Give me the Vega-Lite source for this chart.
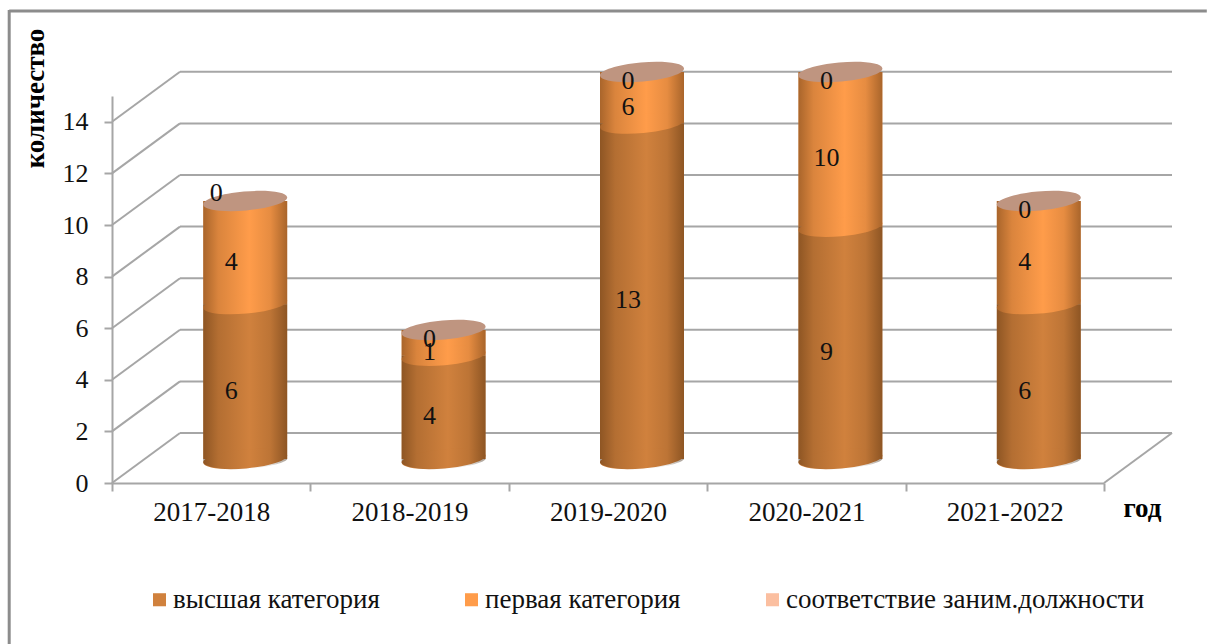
{
"$schema":"https://vega.github.io/schema/vega-lite/v6.json",
"width":992,"height":387,
"autosize":{"type":"none"},
"padding":{"left":112,"top":96,"right":103,"bottom":161},
"background":"#ffffff",
"config":{"view":{"stroke":null},
 "axisX":{"titleFont":"Liberation Serif","titleFontSize":27,"titleFontWeight":"bold","titleColor":"#000000","titleX":1030,"titleY":12,"titleAlign":"center","labelFont":"Liberation Serif","labelFontSize":27,"labelColor":"#111111","labelAngle":0,"labelAlign":"center","labelBaseline":"top","labelPadding":8,"tickBand":"extent","tickSize":8,"tickColor":"#a6a6a6","tickWidth":2,"domainColor":"#a6a6a6","domainWidth":2,"grid":false},
 "axisY":{"titleFont":"Liberation Serif","titleFontSize":27,"titleFontWeight":"bold","titleColor":"#000000","titleX":-63,"titleY":2,"titleAngle":270,"labelFont":"Liberation Serif","labelFontSize":26,"labelColor":"#111111","labelPadding":16,"tickSize":8,"tickColor":"#a6a6a6","tickWidth":2,"domainColor":"#a6a6a6","domainWidth":2,"grid":false}
},
"datasets":{
"segments":[
{"year":"2017-2018","cat":"высшая категория","value":6,"start":0,"end":6,"mid":3},
{"year":"2017-2018","cat":"первая категория","value":4,"start":6,"end":10,"mid":8},
{"year":"2017-2018","cat":"соответствие заним.должности","value":0,"start":10,"end":10,"mid":10},
{"year":"2018-2019","cat":"высшая категория","value":4,"start":0,"end":4,"mid":2},
{"year":"2018-2019","cat":"первая категория","value":1,"start":4,"end":5,"mid":4.5},
{"year":"2018-2019","cat":"соответствие заним.должности","value":0,"start":5,"end":5,"mid":5},
{"year":"2019-2020","cat":"высшая категория","value":13,"start":0,"end":13,"mid":6.5},
{"year":"2019-2020","cat":"первая категория","value":6,"start":13,"end":15,"mid":14},
{"year":"2019-2020","cat":"соответствие заним.должности","value":0,"start":15,"end":15,"mid":15},
{"year":"2020-2021","cat":"высшая категория","value":9,"start":0,"end":9,"mid":4.5},
{"year":"2020-2021","cat":"первая категория","value":10,"start":9,"end":15,"mid":12},
{"year":"2020-2021","cat":"соответствие заним.должности","value":0,"start":15,"end":15,"mid":15},
{"year":"2021-2022","cat":"высшая категория","value":6,"start":0,"end":6,"mid":3},
{"year":"2021-2022","cat":"первая категория","value":4,"start":6,"end":10,"mid":8},
{"year":"2021-2022","cat":"соответствие заним.должности","value":0,"start":10,"end":10,"mid":10}
],
"cylinders":[
{"year":"2017-2018","floor":0,"top":10},
{"year":"2018-2019","floor":0,"top":5},
{"year":"2019-2020","floor":0,"top":15},
{"year":"2020-2021","floor":0,"top":15},
{"year":"2021-2022","floor":0,"top":10}
],
"grid":[
{"v":0,"a":"2017-2018","b":"2021-2022"},{"v":2,"a":"2017-2018","b":"2021-2022"},{"v":4,"a":"2017-2018","b":"2021-2022"},{"v":6,"a":"2017-2018","b":"2021-2022"},{"v":8,"a":"2017-2018","b":"2021-2022"},{"v":10,"a":"2017-2018","b":"2021-2022"},{"v":12,"a":"2017-2018","b":"2021-2022"},{"v":14,"a":"2017-2018","b":"2021-2022"}
],
"corner":[{"a":"2017-2018","b":"2021-2022","v":0,"w":15}]
},
"layer":[
{"data":{"name":"grid"},"mark":{"type":"rule","color":"#a6a6a6","strokeWidth":2,"xOffset":-31.2,"x2Offset":167.2,"yOffset":-50},
 "encoding":{"x":{"field":"a","type":"nominal"},"x2":{"field":"b"},"y":{"field":"v","type":"quantitative"}}},
{"data":{"name":"grid"},"mark":{"type":"rule","color":"#a6a6a6","strokeWidth":2,"xOffset":-99.2,"x2Offset":-31.2,"y2Offset":-50},
 "encoding":{"x":{"field":"a","type":"nominal"},"x2":{"field":"a"},"y":{"field":"v","type":"quantitative"},"y2":{"field":"v"}}},
{"data":{"name":"corner"},"mark":{"type":"rule","color":"#a6a6a6","strokeWidth":2,"xOffset":99.2,"x2Offset":167.2,"y2Offset":-50},
 "encoding":{"x":{"field":"b","type":"nominal"},"x2":{"field":"b"},"y":{"field":"v","type":"quantitative"},"y2":{"field":"v"}}},
{"data":{"name":"corner"},"mark":{"type":"rule","color":"#8c8c8c","strokeWidth":3,"xOffset":-202,"x2Offset":202,"yOffset":-85},
 "encoding":{"x":{"field":"a","type":"nominal"},"x2":{"field":"b"},"y":{"field":"w","type":"quantitative"}}},
{"data":{"name":"corner"},"mark":{"type":"rule","color":"#8c8c8c","strokeWidth":3,"xOffset":-202,"yOffset":162,"y2Offset":-86},
 "encoding":{"x":{"field":"a","type":"nominal"},"y":{"field":"v","type":"quantitative"},"y2":{"field":"w"}}},
{"data":{"name":"segments"},"mark":{"type":"bar","size":84,"xOffset":34,"yOffset":-24,"y2Offset":-24},
 "encoding":{
  "x":{"field":"year","type":"nominal","sort":null,"scale":{"domain":["2017-2018","2018-2019","2019-2020","2020-2021","2021-2022"],"paddingInner":0,"paddingOuter":0},
    "axis":{"title":"год"}},
  "y":{"field":"start","type":"quantitative","scale":{"domain":[0,15],"nice":false},
    "axis":{"title":"количество","values":[0,2,4,6,8,10,12,14]}},
  "y2":{"field":"end"},
  "color":{"field":"cat","type":"nominal","sort":null,
    "scale":{"domain":["высшая категория","первая категория","соответствие заним.должности"],"range":["#d0813d","#ff9c4a","#fbbfa0"]},
    "legend":{"title":null,"orient":"none","legendX":34,"legendY":490,"direction":"horizontal","columns":3,"symbolType":"square","symbolSize":170,"symbolStrokeWidth":0,"symbolOpacity":1,"labelFont":"Liberation Serif","labelFontSize":27,"labelColor":"#111111","labelLimit":500,"columnPadding":78,"labelOffset":0}}
 }},
{"data":{"name":"segments"},"transform":[{"filter":"datum.value > 0"}],
 "mark":{"type":"point","filled":true,"opacity":1,"size":7056,"xOffset":34,"yOffset":-24,"shape":"M -1 0.09 A 1 0.225 -5 0 0 1 -0.09 A 1 0.225 -5 0 0 -1 0.09 Z"},
 "encoding":{"x":{"field":"year","type":"nominal","sort":null},"y":{"field":"start","type":"quantitative"},"color":{"field":"cat","type":"nominal","sort":null}}},
{"data":{"name":"cylinders"},
 "mark":{"type":"bar","size":84,"xOffset":34,"yOffset":-24,"y2Offset":-24,"fill":{"gradient":"linear","x1":0,"y1":0,"x2":1,"y2":0,"stops":[{"offset":0,"color":"rgba(50,25,0,0.42)"},{"offset":0.18,"color":"rgba(50,25,0,0.18)"},{"offset":0.55,"color":"rgba(50,25,0,0)"},{"offset":0.8,"color":"rgba(50,25,0,0.12)"},{"offset":1,"color":"rgba(50,25,0,0.42)"}]}},
 "encoding":{"x":{"field":"year","type":"nominal","sort":null},"y":{"field":"floor","type":"quantitative"},"y2":{"field":"top"}}},
{"data":{"name":"cylinders"},
 "mark":{"type":"point","filled":true,"opacity":1,"size":7056,"xOffset":34,"yOffset":-24,"shape":"M -1 0 L -1 0.09 C -0.95 0.2 -0.5 0.26 -0.1 0.245 C 0.4 0.225 0.97 0.1 1 0 Z","fill":{"gradient":"linear","x1":0,"y1":0,"x2":1,"y2":0,"stops":[{"offset":0,"color":"rgba(50,25,0,0.42)"},{"offset":0.18,"color":"rgba(50,25,0,0.18)"},{"offset":0.55,"color":"rgba(50,25,0,0)"},{"offset":0.8,"color":"rgba(50,25,0,0.12)"},{"offset":1,"color":"rgba(50,25,0,0.42)"}]}},
 "encoding":{"x":{"field":"year","type":"nominal","sort":null},"y":{"field":"floor","type":"quantitative"}}},
{"data":{"name":"cylinders"},
 "mark":{"type":"point","filled":true,"opacity":1,"size":7056,"color":"#bf9580","xOffset":34,"yOffset":-24,"shape":"M -1 0.09 A 1 0.225 -5 0 0 1 -0.09 A 1 0.225 -5 0 0 -1 0.09 Z"},
 "encoding":{"x":{"field":"year","type":"nominal","sort":null},"y":{"field":"top","type":"quantitative"}}},
{"data":{"name":"segments"},"transform":[{"filter":"datum.year != '2017-2018' || datum.value > 0"}],
 "mark":{"type":"text","fontSize":26,"color":"#111111","font":"Liberation Serif","xOffset":20,"yOffset":-15,"baseline":"middle"},
 "encoding":{"x":{"field":"year","type":"nominal","sort":null},"y":{"field":"mid","type":"quantitative"},"text":{"field":"value","type":"quantitative"}}},
{"data":{"name":"segments"},"transform":[{"filter":"datum.year == '2017-2018' && datum.value == 0"}],
 "mark":{"type":"text","fontSize":26,"color":"#111111","font":"Liberation Serif","xOffset":5,"yOffset":-32,"baseline":"middle"},
 "encoding":{"x":{"field":"year","type":"nominal","sort":null},"y":{"field":"mid","type":"quantitative"},"text":{"field":"value","type":"quantitative"}}}
]
}
